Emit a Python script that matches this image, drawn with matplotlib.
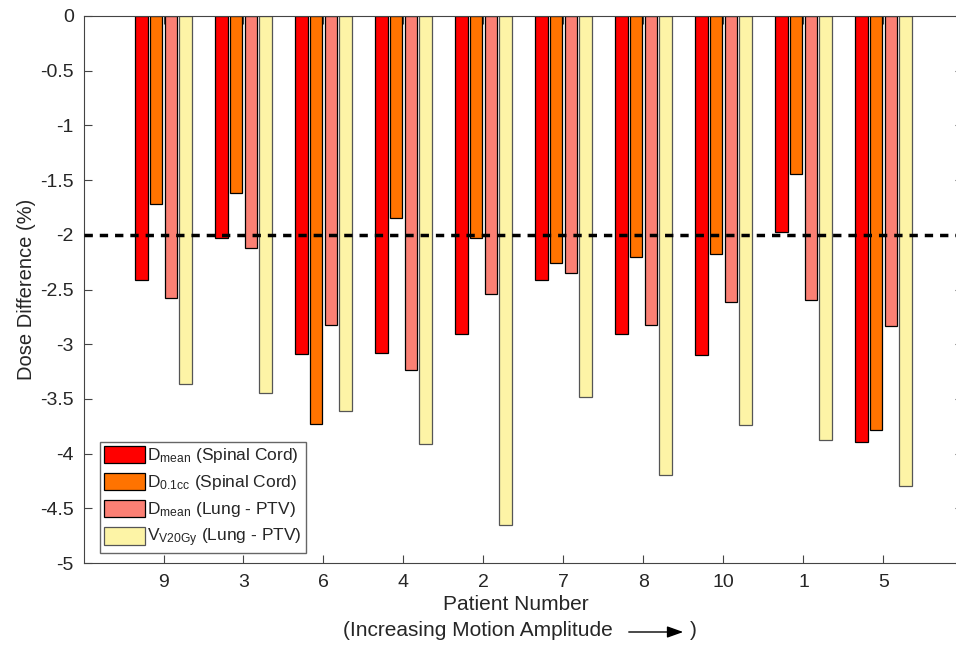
import matplotlib.pyplot as plt
import numpy as np

plt.rcParams['font.family'] = ['Liberation Sans', 'DejaVu Sans']
plt.rcParams['mathtext.fontset'] = 'custom'
plt.rcParams['mathtext.rm'] = 'Liberation Sans'
plt.rcParams['mathtext.it'] = 'Liberation Sans:italic'
plt.rcParams['mathtext.default'] = 'regular'

# patients ordered by motion amplitude
patients = ['9', '3', '6', '4', '2', '7', '8', '10', '1', '5']
dmean_cord = [-2.41, -2.03, -3.09, -3.08, -2.91, -2.41, -2.91, -3.10, -1.97, -3.89]
d01cc_cord = [-1.72, -1.62, -3.73, -1.85, -2.03, -2.26, -2.20, -2.18, -1.44, -3.78]
dmean_lung = [-2.58, -2.12, -2.82, -3.24, -2.54, -2.35, -2.82, -2.61, -2.60, -2.83]
v20_lung = [-3.36, -3.45, -3.61, -3.91, -4.65, -3.48, -4.20, -3.74, -3.88, -4.30]
threshold = -2.0

series = [
    (dmean_cord, '#FF0000', 'black', 'D$_{mean}$ (Spinal Cord)'),
    (d01cc_cord, '#FF7300', 'black', 'D$_{0.1cc}$ (Spinal Cord)'),
    (dmean_lung, '#FB8074', 'black', 'D$_{mean}$ (Lung - PTV)'),
    (v20_lung, '#FDF4A6', '#555555', 'V$_{V20Gy}$ (Lung - PTV)'),
]
offsets = [-0.275, -0.092, 0.092, 0.275]
width = 0.155

fig = plt.figure(figsize=(9.56, 6.45), dpi=100)
ax = fig.add_axes([83.5 / 956, 82 / 645, 880 / 956, 547 / 645])

x = np.arange(1, len(patients) + 1)
for (vals, fc, ec, lab), off in zip(series, offsets):
    ax.bar(x + off, vals, width=width, color=fc, edgecolor=ec, linewidth=0.9, label=lab, zorder=2)

ax.plot([0, 11], [threshold, threshold], color='black', linewidth=2.5,
        linestyle=(0, (2.4, 2.0)), zorder=3)

ax.set_xlim(0, 11)
ax.set_ylim(-5, 0)
ax.set_xticks(x)
ax.set_xticklabels(patients)
ax.set_yticks(np.arange(-5, 0.01, 0.5))
ax.set_yticklabels(['-5', '-4.5', '-4', '-3.5', '-3', '-2.5', '-2', '-1.5', '-1', '-0.5', '0'])

for s in ax.spines.values():
    s.set_color('#444444')
    s.set_linewidth(0.8)
ax.tick_params(axis='both', direction='in', length=6, width=0.8, color='#444444',
               labelsize=14, labelcolor='#262626', top=True, right=True)
ax.tick_params(axis='x', pad=8)
ax.tick_params(axis='y', pad=7)

ax.set_ylabel('Dose Difference (%)', fontsize=14.5, color='#262626', labelpad=3)

fig.text(516 / 956, 1 - 605 / 645, 'Patient Number', fontsize=15, color='#262626',
         ha='center', va='center')
fig.text(343 / 956, 1 - 630 / 645, '(Increasing Motion Amplitude', fontsize=15,
         color='#262626', ha='left', va='center')
fig.text(690 / 956, 1 - 630 / 645, ')', fontsize=15, color='#262626', ha='left', va='center')
fig.add_artist(plt.matplotlib.patches.FancyArrowPatch(
    (626 / 956, 1 - 632 / 645), (686 / 956, 1 - 632 / 645), transform=fig.transFigure,
    arrowstyle='-|>,head_length=0.7,head_width=0.25', mutation_scale=14,
    color='black', linewidth=1.0))

leg = ax.legend(loc='lower left', bbox_to_anchor=(0.0188, 0.018), borderaxespad=0,
                fontsize=12.5, handlelength=2.36, handleheight=1.2, labelspacing=0.42,
                handletextpad=0.15, borderpad=0.22, fancybox=False, framealpha=1)
leg.get_frame().set_edgecolor('#666666')
leg.get_frame().set_linewidth(1.0)
for t in leg.get_texts():
    t.set_color('#262626')

fig.savefig('out.png', dpi=100)
